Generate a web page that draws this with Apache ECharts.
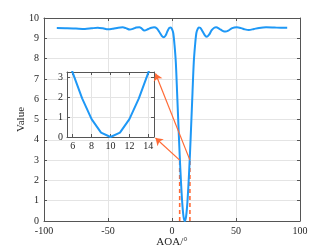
<!DOCTYPE html>
<html><head><meta charset="utf-8">
<script src="https://cdn.jsdelivr.net/npm/echarts@6/dist/echarts.min.js"></script>
<style>html,body{margin:0;padding:0;background:#fff;overflow:hidden}#c{width:332px;height:249px}</style>
</head><body><div id="c"></div>
<script>
// Data
const angle = [-90,-82,-75,-68,-63,-58,-54,-50,-46,-42,-38.5,-36,-33,-30,-28,-25.5,-24,-21.6,-18.5,-16,-14,-12,-10,-8,-6.5,-5,-4,-3,-2,-1,
  0,1,2,3,4,5,6,7,8,9,10,11,12,13,14,15,16,17,18,19,20,21,22,24,26,27.3,29,31,33,34.5,37,39.5,41.8,44,47,50.6,54,57,60,64,68,73.5,80,85,90];
const value = [9.51,9.50,9.48,9.46,9.49,9.52,9.49,9.44,9.47,9.52,9.54,9.50,9.43,9.48,9.53,9.54,9.50,9.38,9.46,9.52,9.54,9.50,9.32,9.12,9.05,9.14,9.28,9.42,9.52,9.53,
  9.45,9.25,8.65,7.8,6.3,4.75,3.25,1.95,0.9,0.22,0,0.22,0.9,1.95,3.25,4.75,6.3,7.8,8.65,9.25,9.45,9.53,9.52,9.33,9.12,9.08,9.18,9.40,9.52,9.54,9.47,9.37,9.33,9.38,9.50,9.54,9.50,9.44,9.41,9.46,9.51,9.54,9.53,9.52,9.52];
const xTicks = [-100, -50, 0, 50, 100];
const yTicks = [0,1,2,3,4,5,6,7,8,9,10];
const insetXTicks = [6, 8, 10, 12, 14];
const insetYTicks = [0, 1, 2, 3];
const zoomX = [6, 14];
const zoomTop = 3;
const insetXRange = [5.4, 14.6];
const insetYRange = [0, 3.28];

const BLUE = '#1e98f6';
const ORANGE = '#ff6a35';
const AXIS = '#555555';
const GRIDC = '#e4e4e4';
const FONT = 'Liberation Serif';
const labelStyle = {fontFamily: FONT, fontSize: 10, color: '#262626'};

const pts = angle.map((a, i) => [a, value[i]]);

function boxAxis(extra) {
  return Object.assign({
    axisLine: {show: true, onZero: false, lineStyle: {color: AXIS, width: 1}},
    axisTick: {show: true, inside: true, length: 3, lineStyle: {color: AXIS}},
    splitLine: {show: false},
    axisLabel: {show: false},
    nameMoveOverlap: false
  }, extra);
}

const chart = echarts.init(document.getElementById('c'), null, {renderer: 'canvas', width: 332, height: 249});
const option = {
  animation: false,
  backgroundColor: '#fff',
  grid: [
    {left: 44, right: 32, top: 18, bottom: 28, containLabel: false, outerBoundsMode: 'none'},
    {left: 67, top: 72, width: 87, height: 65, show: true, backgroundColor: '#fff', borderWidth: 0, z: 3, outerBoundsMode: 'none'}
  ],
  xAxis: [
    boxAxis({type: 'value', gridIndex: 0, position: 'bottom', min: xTicks[0], max: xTicks[xTicks.length-1], interval: 50,
      axisLabel: Object.assign({show: true, margin: 5}, labelStyle),
      splitLine: {show: true, lineStyle: {color: GRIDC, width: 1}},
      name: 'AOA/°', nameLocation: 'middle', nameGap: 16,
      nameTextStyle: {fontFamily: FONT, fontSize: 11, color: '#262626'}}),
    boxAxis({type: 'value', gridIndex: 0, position: 'top', min: xTicks[0], max: xTicks[xTicks.length-1], interval: 50}),
    boxAxis({type: 'value', gridIndex: 1, position: 'bottom', min: insetXRange[0], max: insetXRange[1], z: 4,
      axisTick: {show: true, inside: true, length: 3, lineStyle: {color: AXIS}, customValues: insetXTicks},
      axisLabel: Object.assign({show: true, margin: 4, customValues: insetXTicks}, labelStyle),
      splitLine: {show: true, lineStyle: {color: GRIDC, width: 1}}}),
    boxAxis({type: 'value', gridIndex: 1, position: 'top', min: insetXRange[0], max: insetXRange[1], z: 4,
      axisTick: {show: true, inside: true, length: 3, lineStyle: {color: AXIS}, customValues: insetXTicks}})
  ],
  yAxis: [
    boxAxis({type: 'value', gridIndex: 0, position: 'left', min: yTicks[0], max: yTicks[yTicks.length-1], interval: 1,
      axisLabel: Object.assign({show: true, margin: 5}, labelStyle),
      splitLine: {show: true, lineStyle: {color: GRIDC, width: 1}},
      name: 'Value', nameLocation: 'middle', nameGap: 17, nameRotate: 90,
      nameTextStyle: {fontFamily: FONT, fontSize: 11, color: '#262626'}}),
    boxAxis({type: 'value', gridIndex: 0, position: 'right', min: yTicks[0], max: yTicks[yTicks.length-1], interval: 1}),
    boxAxis({type: 'value', gridIndex: 1, position: 'left', min: insetYRange[0], max: insetYRange[1], z: 4,
      axisTick: {show: true, inside: true, length: 3, lineStyle: {color: AXIS}, customValues: insetYTicks},
      axisLabel: Object.assign({show: true, margin: 4, customValues: insetYTicks}, labelStyle),
      splitLine: {show: true, lineStyle: {color: GRIDC, width: 1}}}),
    boxAxis({type: 'value', gridIndex: 1, position: 'right', min: insetYRange[0], max: insetYRange[1], z: 4,
      axisTick: {show: true, inside: true, length: 3, lineStyle: {color: AXIS}, customValues: insetYTicks}})
  ],
  series: [
    {type: 'line', name: 'main', xAxisIndex: 0, yAxisIndex: 0, data: pts, smooth: 0.3, showSymbol: false,
      lineStyle: {color: BLUE, width: 2}, z: 3},
    {type: 'line', name: 'zoomL', xAxisIndex: 0, yAxisIndex: 0, data: [[zoomX[0], 0], [zoomX[0], zoomTop]], showSymbol: false,
      lineStyle: {color: ORANGE, width: 1.6, type: [4, 3]}, z: 2},
    {type: 'line', name: 'zoomR', xAxisIndex: 0, yAxisIndex: 0, data: [[zoomX[1], 0], [zoomX[1], zoomTop]], showSymbol: false,
      lineStyle: {color: ORANGE, width: 1.6, type: [4, 3]}, z: 2},
    {type: 'line', name: 'inset', xAxisIndex: 2, yAxisIndex: 2, data: pts, smooth: false, showSymbol: false, clip: true,
      lineStyle: {color: BLUE, width: 2}, z: 6}
  ]
};
chart.setOption(option);

// arrows from the zoomed region to the inset corners
const trPx = chart.convertToPixel({xAxisIndex: 2, yAxisIndex: 2}, [insetXRange[1], insetYRange[1]]);
const brPx = chart.convertToPixel({xAxisIndex: 2, yAxisIndex: 2}, [insetXRange[1], insetYRange[0]]);
const trMain = chart.convertFromPixel({xAxisIndex: 0, yAxisIndex: 0}, [trPx[0] + 1.5, trPx[1] + 1.5]);
const brMain = chart.convertFromPixel({xAxisIndex: 0, yAxisIndex: 0}, [brPx[0] + 1.5, brPx[1] + 1]);
option.series.push({
  type: 'lines', coordinateSystem: 'cartesian2d', xAxisIndex: 0, yAxisIndex: 0, z: 8,
  symbol: ['none', 'arrow'], symbolSize: 7,
  lineStyle: {color: ORANGE, width: 1.2, opacity: 1},
  data: [
    {coords: [[zoomX[1], zoomTop], trMain]},
    {coords: [[zoomX[0], zoomTop], brMain]}
  ]
});
chart.setOption(option);
</script>
</body></html>
